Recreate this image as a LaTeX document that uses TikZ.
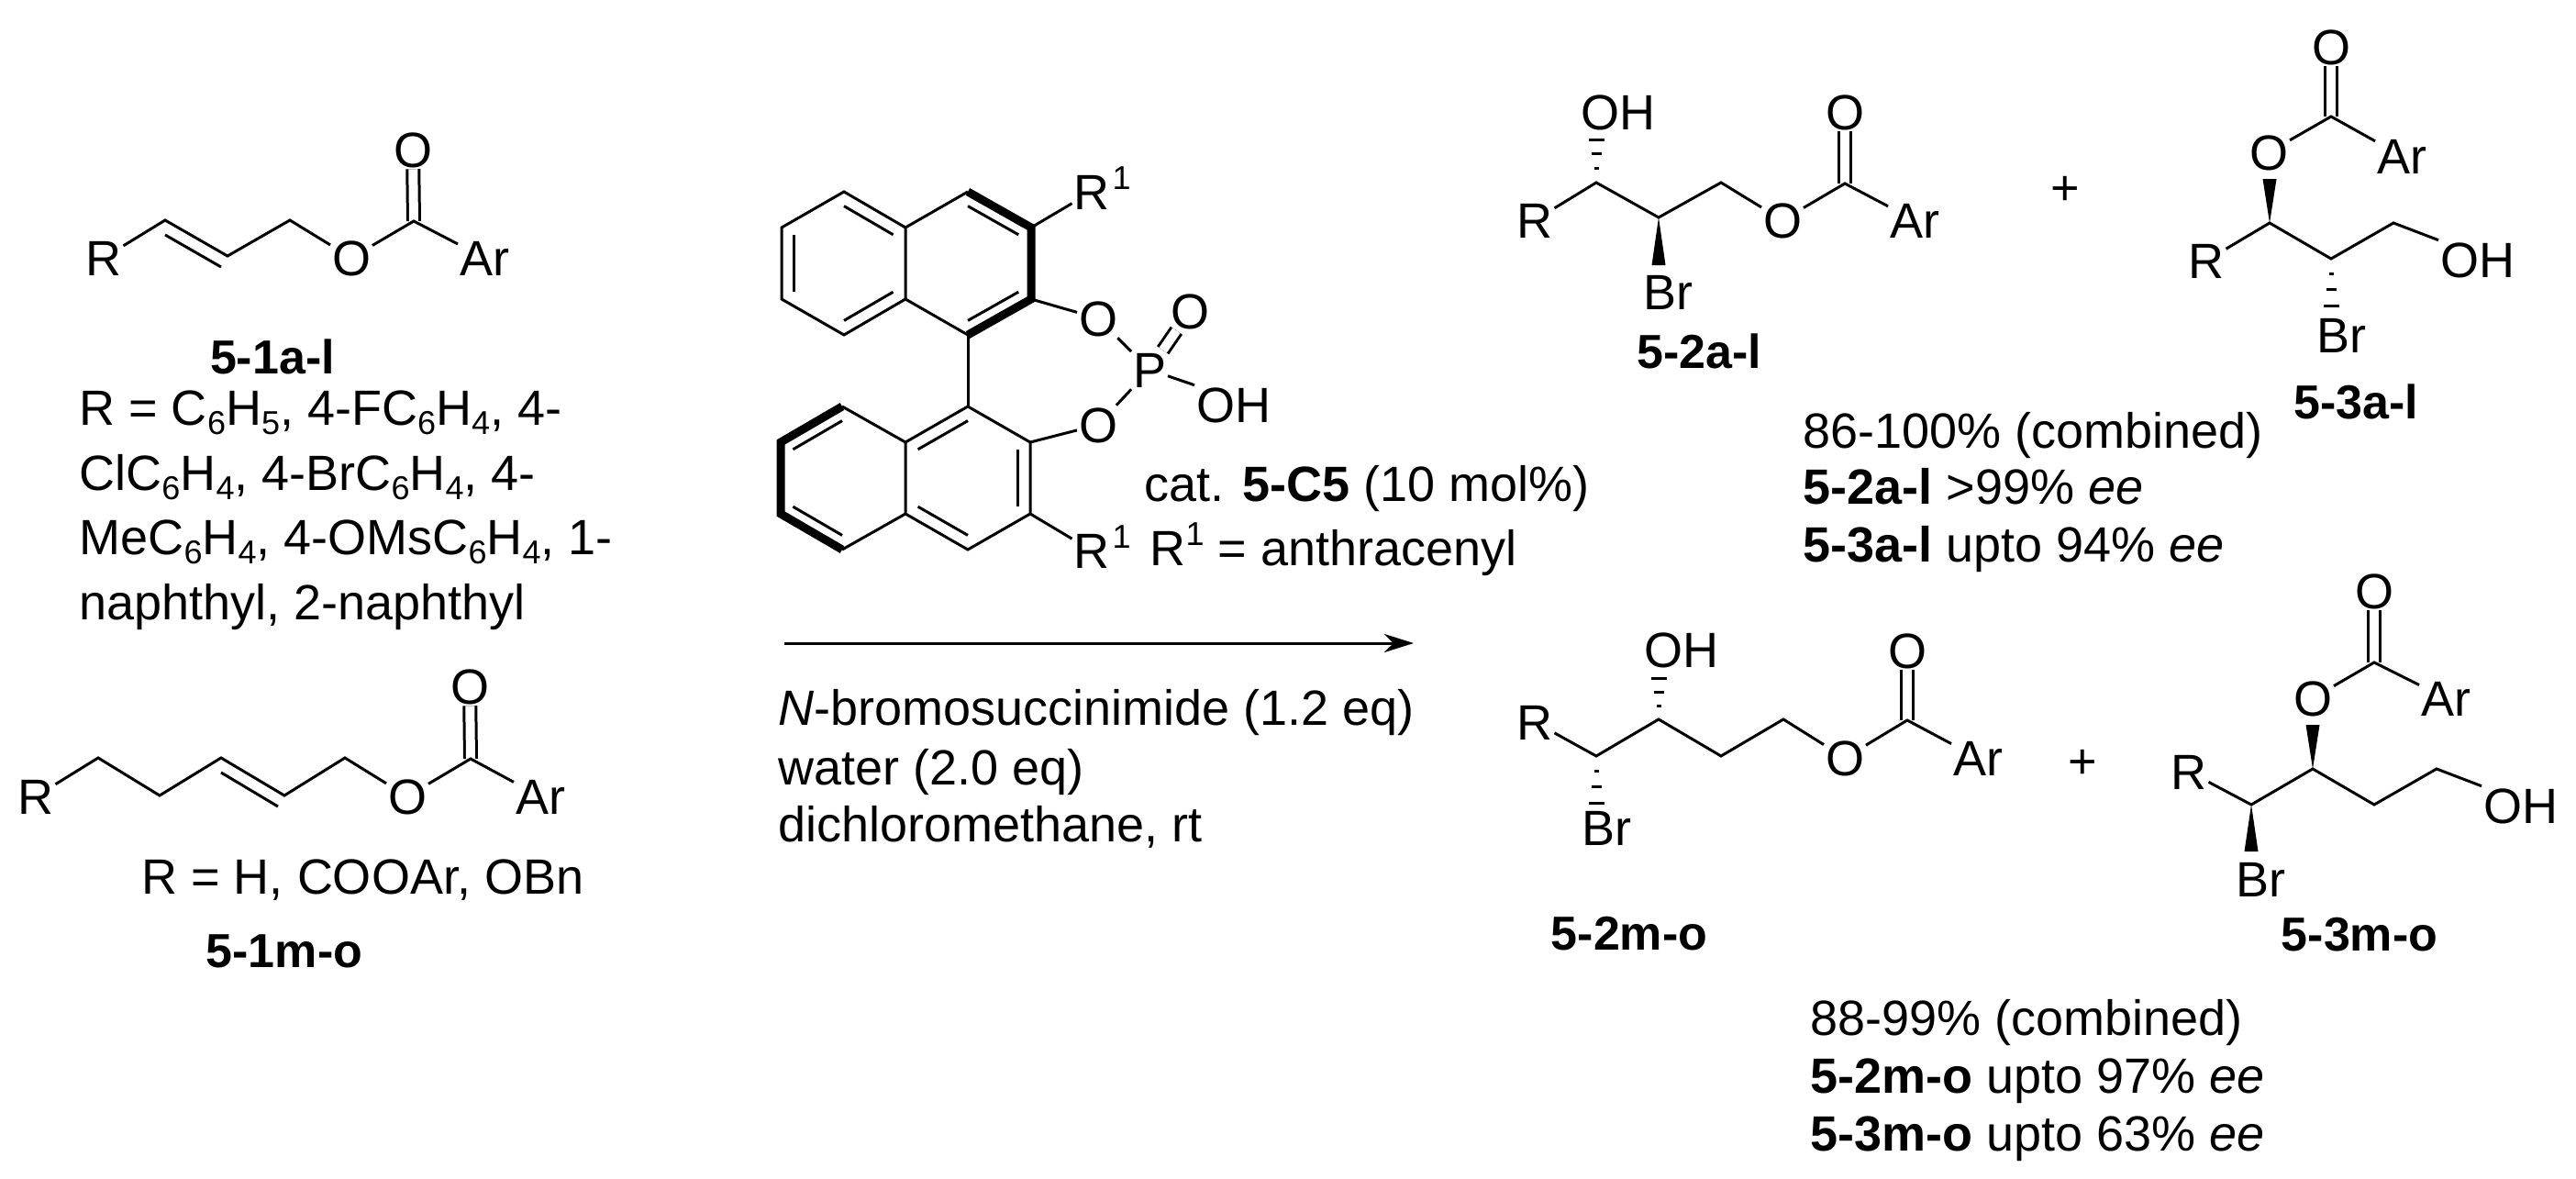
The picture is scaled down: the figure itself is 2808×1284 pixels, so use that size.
\documentclass[tikz,border=0pt]{standalone}
\usepackage{fontspec}
\setmainfont{Liberation Sans}
\usetikzlibrary{calc,arrows.meta}
\newcommand{\chemfont}{\fontsize{27}{27}\selectfont}
\newcommand{\labfont}{\fontsize{26}{26}\selectfont\bfseries}
\newcommand{\sbs}[1]{\raisebox{-5pt}{\fontsize{18}{18}\selectfont #1}}
\newcommand{\supone}{\raisebox{11pt}{\fontsize{18}{18}\selectfont 1}}
\newcommand{\rone}{R\rlap{\hspace{1.5pt}\supone}}
\newcommand{\hashbond}[2]{\foreach \f/\w in {.32/2.5,.66/5.5,1/8.5}{
		\draw[line width=1.5pt] ($(#1)!\f!(#2)+(-\w,0)$) -- ($(#1)!\f!(#2)+(\w,0)$);
	}}
\newcommand{\wedgebond}[2]{\fill (#1) -- ($(#2)+(-7.5,0)$) -- ($(#2)+(7.5,0)$) -- cycle;}
\tikzset{
	atom/.style={font=\chemfont,inner sep=1pt,outer sep=0pt,text height=19.3pt,text depth=0pt},
	txt/.style={font=\chemfont,inner sep=0pt,anchor=base west},
	lab/.style={font=\labfont,inner sep=0pt,text height=19.3pt,text depth=0pt},
	co/.style={double,double distance=5pt},
	boldbond/.style={line width=4.5pt,line join=miter},
	rxnarrow/.style={-{Stealth[length=16pt,width=10pt,inset=5pt]}}
}
\begin{document}
\begin{tikzpicture}[x=0.5pt,y=-0.5pt,line width=1.5pt]
	\useasboundingbox (0,0) rectangle (2808,1284);
	\node[atom] (r1) at (113,281){R};
	\node[atom] (o11) at (383,281){O};
	\node[atom] (o12) at (450,163){O};
	\node[atom] (ar1) at (528,281){Ar};
	\foreach\n/\x/\y in {c11/180/240,c12/248/279,c13/316/240,c14/451/241,d11/180/256,d12/241/291}{
		\coordinate (\n) at (\x,\y);
	}
	\draw[co] (c14) -- (o12);
	\draw (r1) -- (c11) -- (c12) -- (c13) -- (o11) -- (c14) -- (ar1);
	\draw (d11) -- (d12);
	\node[lab] (l1a) at (297,388){5-1a-l};
	\node[txt] (t11) at (85,463){R = C\sbs{6}H\sbs{5}, 4-FC\sbs{6}H\sbs{4}, 4-};
	\node[txt] (t12) at (85,534){ClC\sbs{6}H\sbs{4}, 4-BrC\sbs{6}H\sbs{4}, 4-};
	\node[txt] (t13) at (85,604){MeC\sbs{6}H\sbs{4}, 4-OMsC\sbs{6}H\sbs{4}, 1-};
	\node[txt] (t14) at (85,675){naphthyl, 2-naphthyl};

	\node[atom] (r2) at (39,868){R};
	\node[atom] (o21) at (444,868){O};
	\node[atom] (o22) at (512,748){O};
	\node[atom] (ar2) at (589,868){Ar};
	\foreach\n/\x/\y in {c21/107/826,c22/174/867,c23/241/826,c24/310/867,c25/376/826,c26/513/827,d21/241/842,d22/303/879}{
		\coordinate (\n) at (\x,\y);
	}
	\draw[co] (c26) -- (o22);
	\draw (r2) -- (c21) -- (c22) -- (c23) -- (c24) -- (c25) -- (o21) -- (c26) -- (ar2);
	\draw (d21) -- (d22);
	\node[txt] (t21) at (153,974){R = H, COOAr, OBn};
	\node[lab] (l1m) at (310,1035){5-1m-o};

	\foreach\n/\x/\y in {a1/920/209,a2/852/248,a3/852/326,a4/920/365,a5/987/326,a6/987/248,a7/1055/209,a8/1124/248,a9/1124/326,a10/1055/365,
		b1/1055/443,b2/1123/482,b3/1123/560,b4/1055/599,b5/987/560,b6/987/482,b7/918/443,b8/851/482,b9/851/560,b10/918/599,
		ca/920/287,cb/1055/287,cc/1055/521,cd/918/521}{
		\coordinate (\n) at (\x,\y);
	}
	\node[atom] (r1a) at (1190,209){\rone};
	\node[atom] (r1b) at (1190,600){\rone};
	\node[atom] (oa) at (1197,347){O};
	\node[atom] (ob) at (1197,463){O};
	\node[atom] (p) at (1253,403){P};
	\node[atom] (ot) at (1297,339){O};
	\node[atom,anchor=west] (oh) at (1302,441){OH};
	\draw (a1) -- (a2) -- (a3) -- (a4) -- (a5) -- (a6) -- cycle;
	\draw (a6) -- (a7);
	\draw (a10) -- (a5);
	\draw[boldbond] (a7) -- (a8) -- (a9) -- (a10);
	\draw (b1) -- (b2) -- (b3) -- (b4) -- (b5) -- (b6) -- cycle;
	\draw (a10) -- (b1);
	\draw (b6) -- (b7);
	\draw (b10) -- (b5);
	\draw[boldbond] (b7) -- (b8) -- (b9) -- (b10);
	\foreach\p/\q/\r in {a1/a6/ca,a2/a3/ca,a4/a5/ca,a7/a8/cb,a9/a10/cb,b1/b6/cc,b2/b3/cc,b4/b5/cc,b7/b8/cd,b9/b10/cd}{
		\draw ($(\p)!.2!(\r)$) -- ($(\q)!.2!(\r)$);
	}
	\draw (a8) -- (r1a);
	\draw (b3) -- (r1b);
	\draw (a9) -- (oa) -- (p);
	\draw (b2) -- (ob) -- (p);
	\draw[co] (p) -- (ot);
	\draw (p) -- (oh.north west);
	\node[txt] (t31) at (1246,546){cat. \textbf{5-C5} (10 mol\%)};
	\node[txt] (t32) at (1252,616){R\supone{} = anthracenyl};
	\coordinate (as) at (855,701);
	\coordinate (ae) at (1541,701);
	\draw[rxnarrow] (as) -- (ae);
	\node[txt] (t41) at (847,790){\textit{N}-bromosuccinimide (1.2 eq)};
	\node[txt] (t42) at (847,855){water (2.0 eq)};
	\node[txt] (t43) at (847,917){dichloromethane, rt};

	\node[atom] (r3) at (1673,240){R};
	\node[atom] (o31) at (1943,240){O};
	\node[atom] (o32) at (2011,122){O};
	\node[atom] (ar3) at (2087,240){Ar};
	\node[atom,anchor=west] (oh3) at (1721,122){OH};
	\node[atom] (br3) at (1818,318){Br};
	\foreach\n/\x/\y in {c31/1740/199,c32/1808/237,c33/1876/199,c34/2011/200,h31/1740/152,w31/1808/289}{
		\coordinate (\n) at (\x,\y);
	}
	\draw[co] (c34) -- (o32);
	\draw (r3) -- (c31) -- (c32) -- (c33) -- (o31) -- (c34) -- (ar3);
	\hashbond{c31}{h31}
	\wedgebond{c32}{w31}
	\node[lab] (l2a) at (1852,382){5-2a-l};
	\node[atom] (plus1) at (2251,204){+};

	\node[atom] (r4) at (2405,284){R};
	\node[atom] (o41) at (2473,166){O};
	\node[atom] (o42) at (2541,51){O};
	\node[atom] (ar4) at (2618,170){Ar};
	\node[atom,anchor=west] (oh4) at (2658,283){OH};
	\node[atom] (br4) at (2552,365){Br};
	\foreach\n/\x/\y in {c41/2474/243,c42/2541/282,c43/2609/243,c44/2541/127,h41/2541/333,w41/2474/195}{
		\coordinate (\n) at (\x,\y);
	}
	\draw[co] (c44) -- (o42);
	\draw (o41) -- (c44) -- (ar4);
	\draw (r4) -- (c41) -- (c42) -- (c43) -- (oh4.north west);
	\wedgebond{c41}{w41}
	\hashbond{c42}{h41}
	\node[lab] (l3a) at (2568,437){5-3a-l};
	\node[txt] (t51) at (1964,488){86-100\% (combined)};
	\node[txt] (t52) at (1964,549){\textbf{5-2a-l} >99\% \textit{ee}};
	\node[txt] (t53) at (1964,612){\textbf{5-3a-l} upto 94\% \textit{ee}};

	\node[atom] (r5) at (1673,787){R};
	\node[atom] (o51) at (2011,826){O};
	\node[atom] (o52) at (2079,709){O};
	\node[atom] (ar5) at (2156,826){Ar};
	\node[atom,anchor=west] (oh5) at (1790,708){OH};
	\node[atom] (br5) at (1751,902){Br};
	\foreach\n/\x/\y in {c51/1740/824,c52/1808/784,c53/1876/824,c54/1944/784,c55/2079/785,h51/1808/739,h52/1740/875}{
		\coordinate (\n) at (\x,\y);
	}
	\draw[co] (c55) -- (o52);
	\draw (r5) -- (c51) -- (c52) -- (c53) -- (c54) -- (o51) -- (c55) -- (ar5);
	\hashbond{c52}{h51}
	\hashbond{c51}{h52}
	\node[lab] (l2m) at (1776,1016){5-2m-o};
	\node[atom] (plus2) at (2270,829){+};

	\node[atom] (r6) at (2386,841){R};
	\node[atom] (o61) at (2521,761){O};
	\node[atom] (o62) at (2588,644){O};
	\node[atom] (ar6) at (2666,761){Ar};
	\node[atom,anchor=west] (oh6) at (2705,878){OH};
	\node[atom] (br6) at (2464,958){Br};
	\foreach\n/\x/\y in {c61/2454/877,c62/2521/838,c63/2588/877,c64/2656/838,c65/2588/722,w61/2521/790,w62/2454/928}{
		\coordinate (\n) at (\x,\y);
	}
	\draw[co] (c65) -- (o62);
	\draw (o61) -- (c65) -- (ar6);
	\draw (r6) -- (c61) -- (c62) -- (c63) -- (c64) -- (oh6.north west);
	\wedgebond{c62}{w61}
	\wedgebond{c61}{w62}
	\node[lab] (l3m) at (2572,1017){5-3m-o};
	\node[txt] (t61) at (1972,1128){88-99\% (combined)};
	\node[txt] (t62) at (1972,1191){\textbf{5-2m-o} upto 97\% \textit{ee}};
	\node[txt] (t63) at (1972,1254){\textbf{5-3m-o} upto 63\% \textit{ee}};
\end{tikzpicture}
\end{document}
